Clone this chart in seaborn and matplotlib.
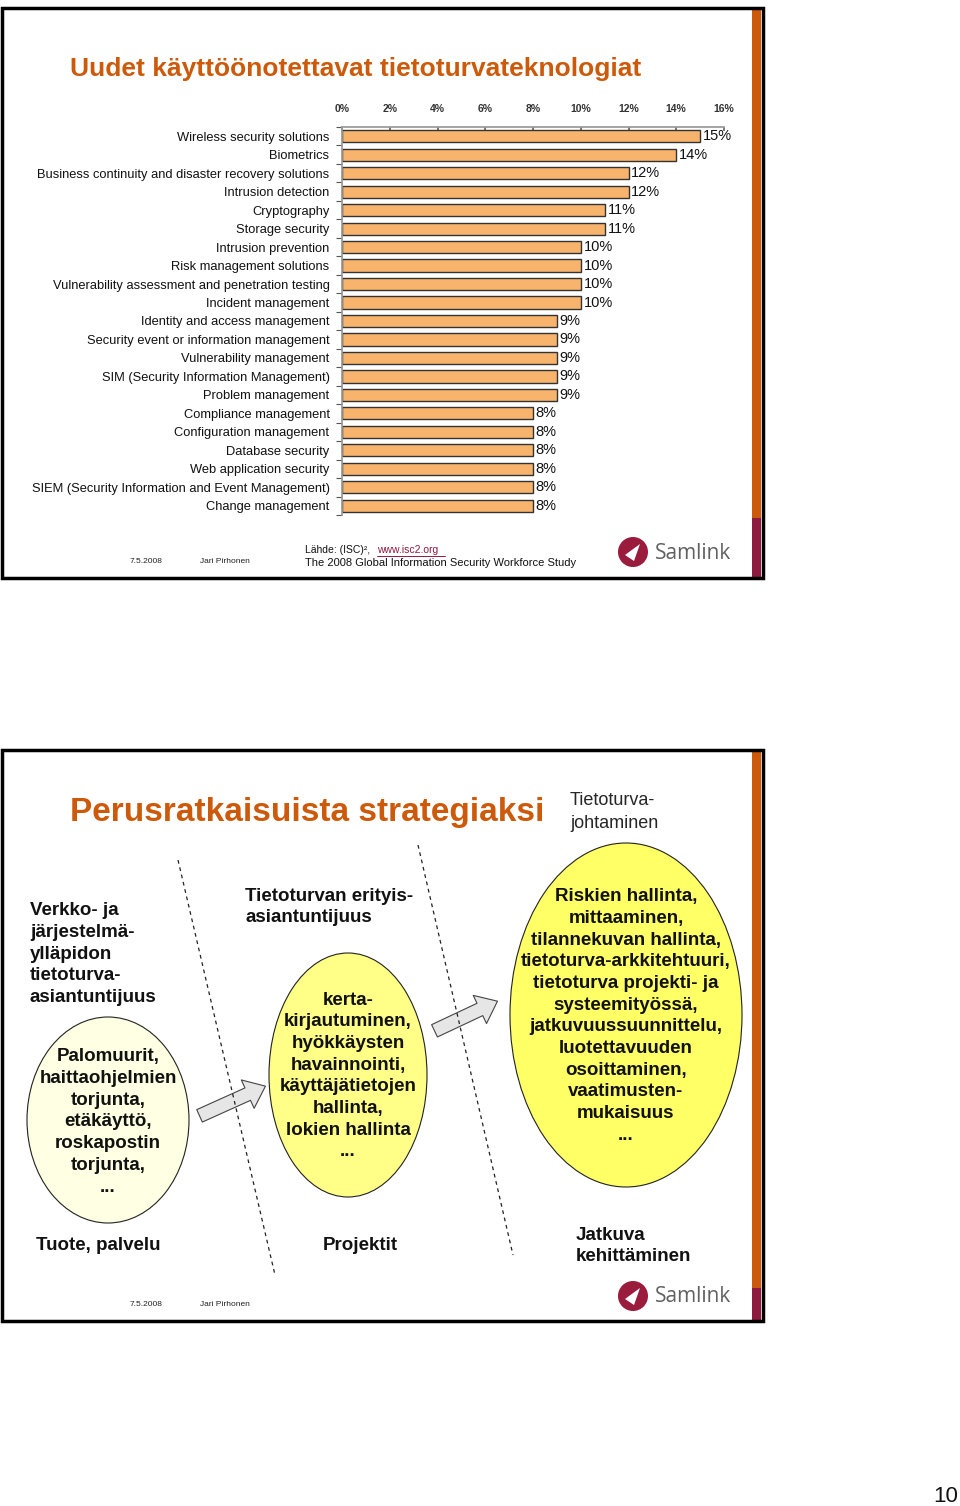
import numpy as np
import pandas as pd
import seaborn as sns
import matplotlib.pyplot as plt
from matplotlib.patches import Rectangle, Ellipse, Circle, FancyArrowPatch, Polygon

# Data
technologies = [
    "Wireless security solutions",
    "Biometrics",
    "Business continuity and disaster recovery solutions",
    "Intrusion detection",
    "Cryptography",
    "Storage security",
    "Intrusion prevention",
    "Risk management solutions",
    "Vulnerability assessment and penetration testing",
    "Incident management",
    "Identity and access management",
    "Security event or information management",
    "Vulnerability management",
    "SIM (Security Information Management)",
    "Problem management",
    "Compliance management",
    "Configuration management",
    "Database security",
    "Web application security",
    "SIEM (Security Information and Event Management)",
    "Change management",
]
shares = [15, 14, 12, 12, 11, 11, 10, 10, 10, 10, 9, 9, 9, 9, 9, 8, 8, 8, 8, 8, 8]
x_ticks = [0, 2, 4, 6, 8, 10, 12, 14, 16]

df = pd.DataFrame({"Technology": technologies, "Share": shares})

sns.set_theme(style="white")
plt.rcParams["font.family"] = ["Liberation Sans", "DejaVu Sans"]

ORANGE = "#CC5A0A"
MAROON = "#8E1A40"

fig = plt.figure(figsize=(9.6, 15.06), dpi=100)

# background / slide decoration in pixel coordinates
bg = fig.add_axes([0, 0, 1, 1])
bg.set_xlim(0, 960)
bg.set_ylim(1506, 0)
bg.axis("off")


def slide_frame(top, bottom, split):
    bg.add_patch(Rectangle((752, top), 9, split - top, color=ORANGE, lw=0))
    bg.add_patch(Rectangle((752, split), 9, bottom - split, color=MAROON, lw=0))
    bg.add_patch(Rectangle((2, top), 761, bottom - top, fill=False, ec="black", lw=2.5))


def samlink(y):
    bg.add_patch(Circle((633, y), 15, color="#9B1B3C", lw=0))
    bg.add_patch(Polygon([[625, y + 3], [640, y - 8], [634, y + 9]], color="white", lw=0))
    bg.text(655, y + 1, "Samlink", fontsize=15, color="#606060", va="center",
            family=["Open Sans", "DejaVu Sans"])


slide_frame(8, 578, 518)
slide_frame(750, 1321, 1288)

bg.text(70, 69, "Uudet käyttöönotettavat tietoturvateknologiat", fontsize=19,
        fontweight="bold", color=ORANGE, va="center")

# footer of slide 1
bg.text(130, 561, "7.5.2008", fontsize=6, va="center", color="#222222")
bg.text(200, 561, "Jari Pirhonen", fontsize=6, va="center", color="#222222")
bg.text(305, 550, "Lähde: (ISC)², ", fontsize=7.5, va="center", color="#111111")
bg.text(377, 550, "www.isc2.org", fontsize=7.5, va="center", color=MAROON)
bg.plot([377, 445], [555.5, 555.5], color=MAROON, lw=0.7)
bg.text(305, 563, "The 2008 Global Information Security Workforce Study", fontsize=8,
        va="center", color="#111111")
samlink(552)

# slide 2
bg.text(70, 812, "Perusratkaisuista strategiaksi", fontsize=24, fontweight="bold",
        color=ORANGE, va="center")
bg.text(570, 812, "Tietoturva-\njohtaminen", fontsize=13, va="center", linespacing=1.4)

bg.plot([178, 275], [860, 1275], ls=(0, (3, 3)), color="#222222", lw=0.9)
bg.plot([418, 513], [845, 1255], ls=(0, (3, 3)), color="#222222", lw=0.9)

bg.add_patch(Ellipse((108, 1120), 162, 206, fc="#FFFFE3", ec="#222222", lw=0.8))
bg.add_patch(Ellipse((348, 1075), 158, 244, fc="#FFFF88", ec="#222222", lw=0.8))
bg.add_patch(Ellipse((626, 1015), 232, 344, fc="#FFFF66", ec="#222222", lw=0.8))

for (x0, y0), (x1, y1) in [((197, 1117), (268, 1085)), ((432, 1032), (500, 1000))]:
    bg.add_patch(FancyArrowPatch((x0, y0), (x1, y1),
                                 arrowstyle="simple,head_length=1.0,head_width=1.6,tail_width=0.7",
                                 mutation_scale=14, fc="#E6E6E6", ec="#444444", lw=0.8))

body = dict(fontsize=13.5, fontweight="bold", color="#111111", linespacing=1.36)
bg.text(30, 954, "Verkko- ja\njärjestelmä-\nylläpidon\ntietoturva-\nasiantuntijuus",
        va="center", ha="left", **body)
bg.text(108, 1122, "Palomuurit,\nhaittaohjelmien\ntorjunta,\netäkäyttö,\nroskapostin\ntorjunta,\n...",
        va="center", ha="center", **body)
bg.text(245, 907, "Tietoturvan erityis-\nasiantuntijuus", va="center", ha="left", **body)
bg.text(348, 1076, "kerta-\nkirjautuminen,\nhyökkäysten\nhavainnointi,\nkäyttäjätietojen\nhallinta,\nlokien hallinta\n...",
        va="center", ha="center", **body)
bg.text(626, 1016, "Riskien hallinta,\nmittaaminen,\ntilannekuvan hallinta,\ntietoturva-arkkitehtuuri,\n"
        "tietoturva projekti- ja\nsysteemityössä,\njatkuvuussuunnittelu,\nluotettavuuden\n"
        "osoittaminen,\nvaatimusten-\nmukaisuus\n...",
        va="center", ha="center", **body)
bg.text(36, 1246, "Tuote, palvelu", va="center", ha="left", **body)
bg.text(323, 1246, "Projektit", va="center", ha="left", **body)
bg.text(576, 1246, "Jatkuva\nkehittäminen", va="center", ha="left", **body)

bg.text(130, 1304, "7.5.2008", fontsize=6, va="center", color="#222222")
bg.text(200, 1304, "Jari Pirhonen", fontsize=6, va="center", color="#222222")
samlink(1296)

bg.text(958, 1496, "10", fontsize=16, ha="right", va="center", color="#111111")

# bar chart
ax = fig.add_axes([342 / 960, 1 - 515 / 1506, 382 / 960, 388 / 1506])
sns.barplot(data=df, x="Share", y="Technology", orient="h", color="#F8B46C",
            saturation=1, edgecolor="#333333", linewidth=1, width=0.66, ax=ax)
ax.set_xlim(0, 16)
ax.set_ylim(len(technologies) - 0.5, -0.5)
ax.xaxis.tick_top()
ax.set_xticks(x_ticks)
ax.set_xticklabels([f"{t}%" for t in x_ticks], fontsize=7.5, fontweight="bold",
                   color="#333333")
ax.tick_params(axis="x", which="major", direction="in", length=3, pad=9, colors="#666666",
               labelcolor="#333333")
ax.set_yticks(np.arange(len(technologies)))
ax.set_yticklabels(technologies, fontsize=9.3, color="#111111")
ax.set_yticks(np.arange(len(technologies) + 1) - 0.5, minor=True)
ax.tick_params(axis="y", which="major", length=0, pad=9)
ax.tick_params(axis="y", which="minor", left=True, length=4, width=0.8, color="#555555")
ax.set_xlabel("")
ax.set_ylabel("")
for side in ["right", "bottom"]:
    ax.spines[side].set_visible(False)
ax.spines["top"].set_color("#999999")
ax.spines["left"].set_color("#999999")
ax.bar_label(ax.containers[0], labels=[f"{v}%" for v in shares], padding=2,
             fontsize=10.5, color="#111111")

fig.savefig("out.png", dpi=100)
